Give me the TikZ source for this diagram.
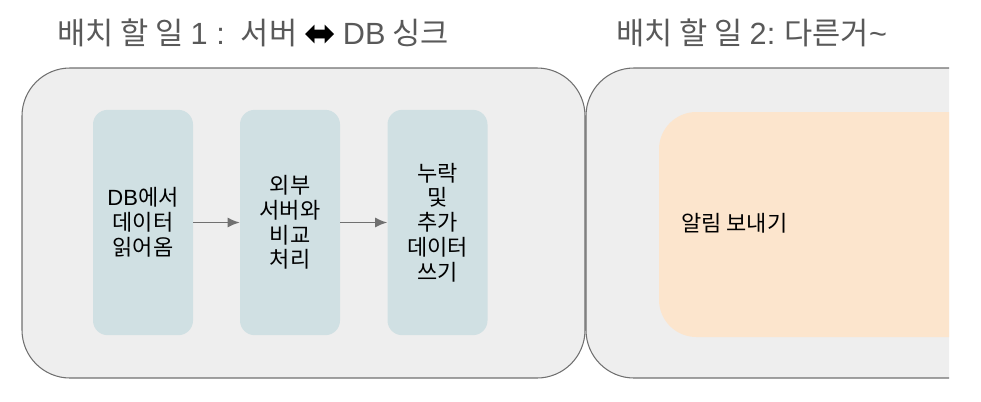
\documentclass[tikz,border=0pt]{standalone}
\usepackage{fontspec}
\setmainfont{Noto Sans CJK KR}
\newfontfamily\latin{Liberation Sans}
\newfontfamily\symb{DejaVu Sans}
\usetikzlibrary{arrows.meta}
\definecolor{panelgray}{HTML}{EEEEEE}
\definecolor{edgegray}{HTML}{707070}
\definecolor{stepblue}{HTML}{D0E0E3}
\definecolor{alertpeach}{HTML}{FCE5CD}
\definecolor{titlegray}{HTML}{595959}

\begin{document}
\begin{tikzpicture}[x=0.75pt,y=-0.75pt,
  title/.style={anchor=west,text=titlegray,font=\fontsize{23}{26}\selectfont,inner sep=0},
  panel/.style={fill=panelgray,draw=edgegray,line width=0.8pt,rounded corners=36pt},
  stepbox/.style={fill=stepblue,rounded corners=11pt,minimum width=75pt,minimum height=169pt,
    align=center,inner sep=0,font=\fontsize{16.5}{18.6}\selectfont},
  flow/.style={draw=edgegray,line width=1.2pt,-{Latex[length=9pt,width=7.5pt]}}]
\useasboundingbox (0,0) rectangle (981,401);

\node[title] (title1) at (57,33) {배치 할 일 {\latin 1 :}\hspace{12pt}서버 \raisebox{-1.5pt}{\resizebox{24pt}{!}{\color{black}\symb ⬌}} {\latin DB} 싱크};
\node[title] (title2) at (616,33) {배치 할 일 {\latin 2:} 다른거{\latin \char`\~}};

\path[panel] (22,68) rectangle (585,378);
\path[panel] (949,68) -- (586,68) -- (586,378) -- (949,378);
\fill[alertpeach,rounded corners=28pt] (949,112) -- (659,112) -- (659,337) -- (949,337);

\node[stepbox] (read) at (143,222.5) {{\latin DB}에서\\데이터\\읽어옴};
\node[stepbox] (compare) at (290,222.5) {외부\\서버와\\비교\\처리};
\node[stepbox] (write) at (437.5,222.5) {누락\\및\\추가\\데이터\\쓰기};
\draw[flow,fill=edgegray] (read) -- (compare);
\draw[flow,fill=edgegray] (compare) -- (write);

\node[anchor=west,inner sep=0,font=\fontsize{16.5}{18}\selectfont] (notify) at (681,223) {알림 보내기};
\end{tikzpicture}
\end{document}
